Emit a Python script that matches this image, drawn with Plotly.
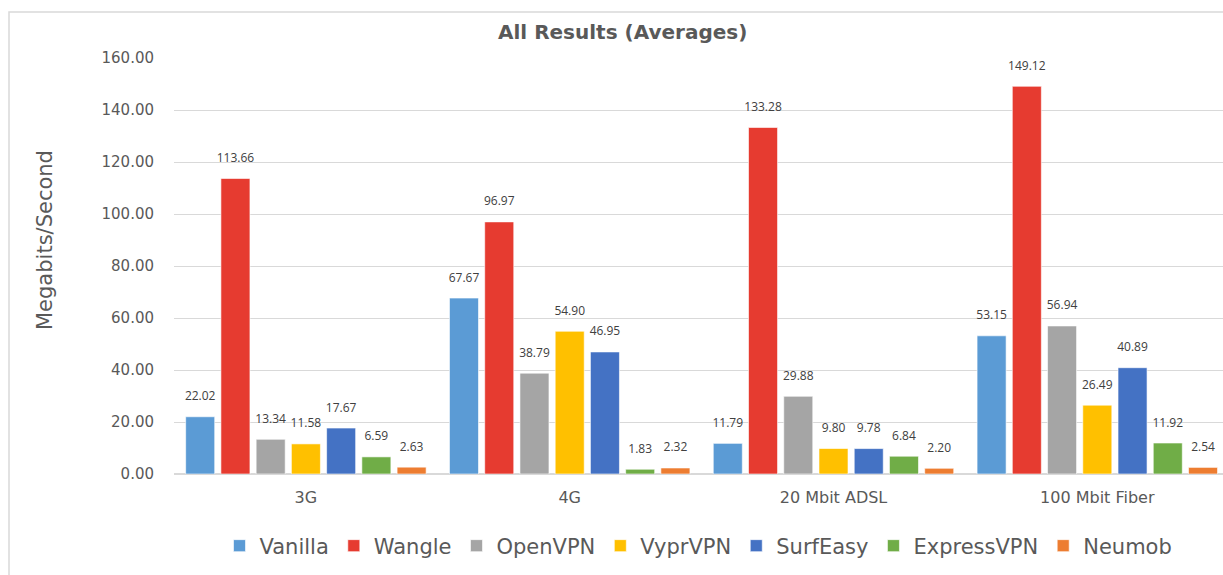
import plotly.graph_objects as go

categories = ["3G", "4G", "20 Mbit ADSL", "100 Mbit Fiber"]
series_names = ["Vanilla", "Wangle", "OpenVPN", "VyprVPN", "SurfEasy", "ExpressVPN", "Neumob"]
vanilla = [22.02, 67.67, 11.79, 53.15]
wangle = [113.66, 96.97, 133.28, 149.12]
openvpn = [13.34, 38.79, 29.88, 56.94]
vyprvpn = [11.58, 54.90, 9.80, 26.49]
surfeasy = [17.67, 46.95, 9.78, 40.89]
expressvpn = [6.59, 1.83, 6.84, 11.92]
neumob = [2.63, 2.32, 2.20, 2.54]
y_ticks = [0, 20, 40, 60, 80, 100, 120, 140, 160]

series_values = [vanilla, wangle, openvpn, vyprvpn, surfeasy, expressvpn, neumob]
colors = ["#5B9BD5", "#E63B30", "#A5A5A5", "#FFC000", "#4472C4", "#70AD47", "#ED7D31"]

W, H = 1223, 575
L, R, T, B = 174, 0, 58, 101
pw, ph = W - L - R, H - T - B
FONT = "DejaVu Sans, sans-serif"
GRAY = "#595959"

fig = go.Figure()
for name, vals, col in zip(series_names, series_values, colors):
    fig.add_trace(go.Bar(
        x=categories, y=vals, name=name, offsetgroup=name,
        marker=dict(color=col, line=dict(color="rgba(255,255,255,0.6)", width=1)),
        hoverinfo="x+y+name",
    ))
for name, vals in zip(series_names, series_values):
    fig.add_trace(go.Scatter(
        x=categories, y=vals, offsetgroup=name, mode="markers+text",
        text=[f"{v:.2f}" for v in vals], textposition="top center",
        textfont=dict(size=12, color="#404040", family="Open Sans, sans-serif"),
        marker=dict(size=20, color="rgba(0,0,0,0)"),
        showlegend=False, hoverinfo="skip", cliponaxis=False,
    ))

def px_x(px):
    return (px - L) / pw

def px_y(py):
    return (H - B - py) / ph

fig.update_layout(
    width=W, height=H,
    margin=dict(l=L, r=R, t=T, b=B),
    paper_bgcolor="white", plot_bgcolor="white",
    barmode="group", scattermode="group",
    bargap=0.065, bargroupgap=0.176, scattergap=0.065,
    font=dict(family=FONT, color=GRAY),
    showlegend=True,
    legend=dict(
        orientation="h", x=0.5, xanchor="center", y=px_y(546), yanchor="middle",
        font=dict(size=21, color=GRAY, family=FONT),
        traceorder="normal", itemwidth=30,
    ),
    xaxis=dict(
        range=[-0.5, -0.5 + pw / 263.8], showgrid=False, zeroline=False,
        showline=False, ticks="", tickfont=dict(size=16, color=GRAY, family=FONT),
        ticklabelstandoff=12,
    ),
    yaxis=dict(
        range=[0, 160], tickvals=y_ticks, ticktext=[f"{v:.2f}" for v in y_ticks],
        showgrid=True, gridcolor="#D9D9D9", gridwidth=1,
        zeroline=True, zerolinecolor="#D9D9D9", zerolinewidth=1.5,
        showline=False, ticks="", tickfont=dict(size=15, color=GRAY, family=FONT),
        ticklabelstandoff=19,
    ),
    annotations=[
        dict(text="<b>All Results (Averages)</b>", xref="paper", yref="paper",
             x=px_x(622), y=px_y(32), xanchor="center", yanchor="middle",
             showarrow=False, font=dict(size=20, color=GRAY, family=FONT)),
        dict(text="Megabits/Second", xref="paper", yref="paper",
             x=px_x(45), y=px_y(240), xanchor="center", yanchor="middle",
             textangle=-90, showarrow=False,
             font=dict(size=21, color=GRAY, family=FONT)),
    ],
    shapes=[
        dict(type="rect", xref="paper", yref="paper",
             x0=px_x(9), y0=px_y(12), x1=px_x(1240), y1=px_y(590),
             line=dict(color="#D9D9D9", width=1.5), fillcolor="rgba(0,0,0,0)", layer="below"),
    ],
)

fig.write_html("out.html", config={"displayModeBar": False},
               post_script="document.body.style.margin='0px';")
